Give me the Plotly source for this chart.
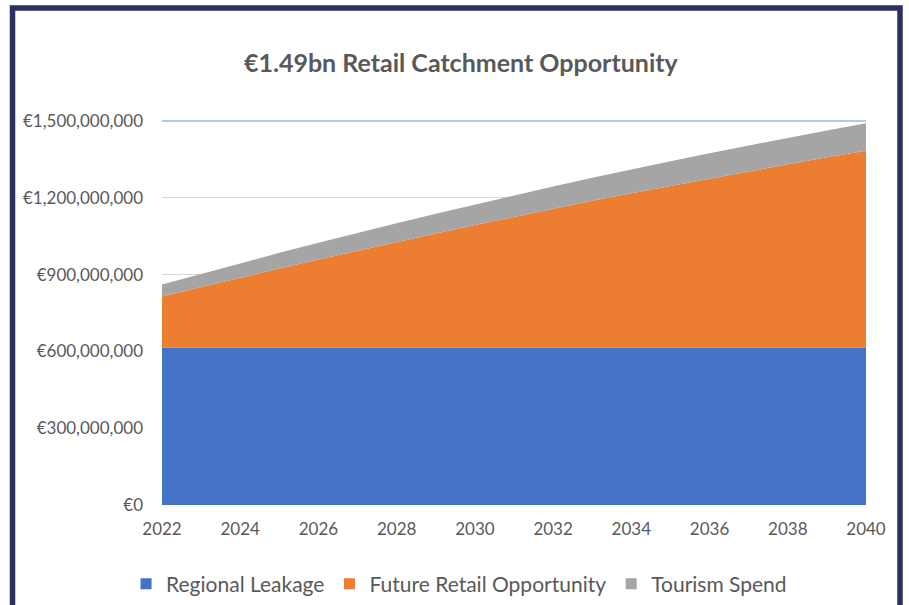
import plotly.graph_objects as go

YEARS = list(range(2022, 2041))

REGIONAL_LEAKAGE = [615e6] * 19
FUTURE_RETAIL = [199e6, 236e6, 273e6, 309e6, 344e6, 379e6, 413e6, 446e6, 479e6, 511e6,
                 542e6, 573e6, 603e6, 632e6, 661e6, 689e6, 716e6, 743e6, 769e6]
TOURISM_SPEND = [47e6, 52e6, 56e6, 61e6, 65e6, 69e6, 73e6, 77e6, 80e6, 84e6,
                 87e6, 90e6, 93e6, 96e6, 98e6, 101e6, 103e6, 105e6, 107e6]

SERIES = [
    ("Regional Leakage", REGIONAL_LEAKAGE, "#4472C4"),
    ("Future Retail Opportunity", FUTURE_RETAIL, "#ED7D31"),
    ("Tourism Spend", TOURISM_SPEND, "#A5A5A5"),
]

FONT = "Lato, 'Open Sans', sans-serif"
TEXT = "#595959"

fig = go.Figure()
for name, vals, color in SERIES:
    fig.add_trace(go.Scatter(
        x=YEARS, y=vals, name=name, mode="lines",
        stackgroup="one", line=dict(width=0, color=color),
        fillcolor=color, showlegend=False,
        hovertemplate="%{x}: €%{y:,.0f}<extra>" + name + "</extra>",
    ))
# square legend keys, like the Excel original
for name, _, color in SERIES:
    fig.add_trace(go.Scatter(
        x=[None], y=[None], name=name, mode="markers",
        marker=dict(symbol="square", size=11, color=color),
    ))

fig.update_layout(
    width=909, height=605,
    margin=dict(l=162, r=43, t=121, b=100),
    paper_bgcolor="white", plot_bgcolor="white",
    font=dict(family=FONT, color=TEXT),
    title=dict(text="<b>€1.49bn Retail Catchment Opportunity</b>",
               x=0.507, xref="container", xanchor="center",
               y=1 - 63 / 605, yref="container", yanchor="middle",
               font=dict(size=25, color=TEXT)),
    xaxis=dict(range=[2022, 2040], tickmode="linear", tick0=2022, dtick=2,
               showgrid=False, zeroline=False, showline=False,
               ticklabelstandoff=12, tickfont=dict(size=17, color=TEXT)),
    yaxis=dict(range=[0, 1.5e9], tickmode="linear", tick0=0, dtick=3e8,
               tickprefix="€", tickformat=",d",
               showgrid=True, gridcolor="#D9D9D9", gridwidth=1,
               zeroline=False, showline=False,
               ticklabelstandoff=18, tickfont=dict(size=17, color=TEXT)),
    legend=dict(orientation="h", xref="container", yref="container",
                x=0.505, xanchor="center", y=21 / 605, yanchor="middle",
                font=dict(size=21, color=TEXT), traceorder="normal",
                itemwidth=30),
    showlegend=True,
    shapes=[
        # light blue line on top of plot area
        dict(type="line", xref="x domain", yref="y domain", x0=0, x1=1, y0=1, y1=1,
             line=dict(color="#B4C7E7", width=2), layer="above"),
        # navy frame around the chart
        dict(type="rect", xref="paper", yref="paper",
             x0=(12.5 - 162) / 704, x1=(900 - 162) / 704,
             y0=(505 - 640) / 384, y1=(505 - 8) / 384,
             line=dict(color="#2C2F60", width=5.5), fillcolor="rgba(0,0,0,0)"),
    ],
)

fig.write_html("out.html", config={"displayModeBar": False},
               post_script="document.body.style.margin='0';")
